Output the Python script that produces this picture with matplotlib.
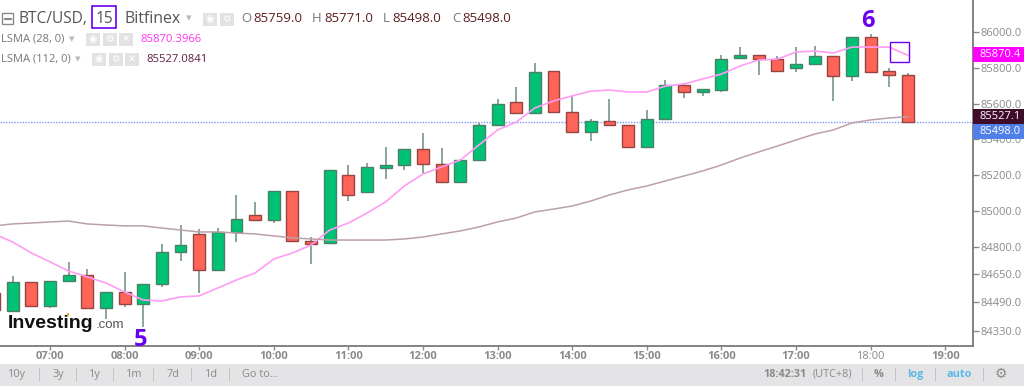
import matplotlib
matplotlib.use("Agg")
import matplotlib.pyplot as plt
from matplotlib.patches import Rectangle

plt.rcParams['font.family'] = ['Open Sans', 'DejaVu Sans']

# --- Data ---
opens = [84542, 84442, 84604, 84470, 84609, 84643, 84459, 84548, 84481, 84593,
         84771, 84872, 84671, 84883, 84978, 84950, 85112, 84833, 84822, 85201,
         85106, 85240, 85257, 85347, 85263, 85162, 85285, 85481, 85609, 85548,
         85782, 85553, 85441, 85503, 85481, 85358, 85514, 85704, 85665, 85676,
         85855, 85872, 85849, 85799, 85821, 85866, 85754, 85972, 85782, 85759]
closes = [84447, 84604, 84470, 84609, 84643, 84459, 84548, 84481, 84593, 84771,
          84810, 84671, 84883, 84956, 84950, 85112, 84833, 84816, 85229, 85090,
          85246, 85257, 85347, 85263, 85162, 85285, 85481, 85598, 85548, 85777,
          85553, 85441, 85503, 85481, 85358, 85514, 85704, 85665, 85682, 85849,
          85872, 85849, 85782, 85821, 85866, 85754, 85972, 85777, 85760, 85498]
highs = [84542, 84637, 84604, 84609, 84716, 84676, 84548, 84660, 84593, 84816,
         84922, 84900, 84905, 85090, 85051, 85112, 85112, 84855, 85229, 85257,
         85268, 85358, 85347, 85436, 85352, 85285, 85492, 85626, 85693, 85827,
         85782, 85643, 85514, 85626, 85481, 85564, 85732, 85715, 85682, 85872,
         85916, 85872, 85866, 85916, 85922, 85866, 85972, 85989, 85799, 85771]
lows = [84447, 84442, 84470, 84459, 84609, 84459, 84397, 84464, 84352, 84576,
        84721, 84542, 84671, 84827, 84950, 84933, 84833, 84704, 84822, 85056,
        85106, 85179, 85229, 85213, 85162, 85162, 85285, 85481, 85548, 85548,
        85553, 85441, 85391, 85475, 85358, 85358, 85514, 85631, 85643, 85665,
        85855, 85760, 85782, 85777, 85821, 85615, 85726, 85777, 85693, 85498]
lsma_28 = [84872, 84827, 84766, 84716, 84665, 84632, 84598, 84548, 84503, 84498,
           84520, 84526, 84570, 84615, 84654, 84732, 84766, 84810, 84894, 84933,
           84989, 85051, 85140, 85207, 85246, 85285, 85369, 85453, 85497, 85576,
           85615, 85643, 85670, 85676, 85665, 85665, 85698, 85710, 85738, 85765,
           85810, 85844, 85849, 85888, 85894, 85883, 85916, 85916, 85916, 85870]
lsma_112 = [84917, 84928, 84933, 84939, 84944, 84928, 84922, 84917, 84917, 84905,
            84894, 84883, 84883, 84877, 84872, 84861, 84850, 84844, 84838, 84838,
            84838, 84838, 84844, 84855, 84872, 84889, 84911, 84939, 84961, 84995,
            85011, 85028, 85056, 85090, 85118, 85140, 85168, 85196, 85224, 85257,
            85296, 85330, 85363, 85397, 85430, 85453, 85492, 85509, 85520, 85527]
times = [6.25 + 0.25 * i for i in range(len(opens))]

price_ticks = [86000, 85800, 85600, 85400, 85200, 85000, 84800, 84650, 84490, 84330]
hour_ticks = [7, 8, 9, 10, 11, 12, 13, 14, 15, 16, 17, 18, 19]
last_price = 85498
range_labels = ["10y", "3y", "1y", "1m", "7d", "1d", "Go to..."]

W, H = 1024, 388
GREY = "#8a8a8a"
PURPLE = "#6a00f0"

fig = plt.figure(figsize=(W / 100, H / 100), dpi=100, facecolor="white")
ax = fig.add_axes([0, 1 - 346 / H, 973 / W, 346 / H])


# --- Helpers working in screen pixels for the chrome around the plot ---
def label(x, y, s, size=8, color=GREY, ha="left", **kw):
    return fig.text(x / W, 1 - y / H, s, fontsize=size, color=color, ha=ha, va="center", **kw)


def box(x, y, w, h, fc="none", ec="none", lw=1, z=5):
    fig.add_artist(Rectangle((x / W, 1 - (y + h) / H), w / W, h / H, facecolor=fc,
                             edgecolor=ec, linewidth=lw, transform=fig.transFigure, zorder=z))


def icons(x, y, marks):
    for i, m in enumerate(marks):
        box(x + i * 16.5, y - 6, 14, 13, fc="#e2e2e2")
        label(x + i * 16.5 + 7, y, m, size=7, color="white", ha="center",
              family="DejaVu Sans").set_zorder(6)


# --- Candles ---
for t, o, c, hi, lo in zip(times, opens, closes, highs, lows):
    up = c >= o
    ax.vlines(t, lo, hi, color="#7f9f90", linewidth=1.3, zorder=2)
    ax.bar(t, abs(c - o), bottom=min(o, c), width=0.16, zorder=3,
           color="#00c274" if up else "#ff6459",
           edgecolor="#4a8068" if up else "#944540", linewidth=1.0)

ax.plot(times, lsma_28, color="#ff9cf5", linewidth=1.2, zorder=4)
ax.plot(times, lsma_112, color="#bba0ab", linewidth=1.1, zorder=4)
ax.axhline(last_price, color="#7f9cf0", linewidth=1, linestyle=(0, (1, 1)), zorder=1)

ax.set_xlim(6.33, 19.373)
ax.set_ylim(84246, 86179)
ax.spines["top"].set_visible(False)
ax.spines["left"].set_visible(False)
ax.spines["right"].set_color("#7a7a7a")
ax.spines["bottom"].set_color("#7a7a7a")
ax.spines["right"].set_linewidth(1.3)
ax.spines["bottom"].set_linewidth(1.3)
ax.yaxis.tick_right()
ax.set_yticks(price_ticks)
ax.set_yticklabels([f"{p:.1f}" for p in price_ticks], fontsize=8, color=GREY)
ax.set_xticks(hour_ticks)
ax.set_xticklabels([f"{h:02d}:00" for h in hour_ticks], fontsize=8, color=GREY, fontweight="bold")
ax.get_xticklabels()[11].set_fontweight("normal")
ax.tick_params(axis="y", length=4, width=1, color="#8a8a8a", pad=1.5)
ax.tick_params(axis="x", length=3, width=1, color="#8a8a8a", pad=0.5)

# --- Legend header ---
box(1.5, 13, 11, 10.5, ec="#8a8a8a", lw=1)
box(3.5, 18, 7, 0.5, ec="#8a8a8a", lw=0.8)
label(19, 19, "BTC/USD,", size=11.2, color="#555555")
label(96, 19, "15", size=11.2, color="#555555")
box(92, 6, 24, 22, ec=PURPLE, lw=1.2)
label(125, 19, "Bitfinex", size=11.4, color="#555555")
label(186, 18, "\u25be", size=8, color="#bbbbbb", family="DejaVu Sans")
icons(203, 19, ["\u25c9", "\u2699"])
label(241, 19, "O", size=9.5, color="#777777")
label(253, 19, "85759.0", size=9.5, color="#5c1f1f")
label(312, 19, "H", size=9.5, color="#777777")
label(324, 19, "85771.0", size=9.5, color="#5c1f1f")
label(383, 19, "L", size=9.5, color="#777777")
label(392, 19, "85498.0", size=9.5, color="#5c1f1f")
label(452, 19, "C", size=9.5, color="#777777")
label(462, 19, "85498.0", size=9.5, color="#5c1f1f")

label(1, 39, "LSMA (28, 0)", size=8, color="#777777")
label(69, 39, "\u25be", size=8, color="#bbbbbb", family="DejaVu Sans")
icons(86, 39, ["\u25c9", "\u2699", "\u2715"])
label(140, 39, "85870.3966", size=8.1, color="#ff33ee")
label(1, 59, "LSMA (112, 0)", size=8, color="#777777")
label(75, 59, "\u25be", size=8, color="#bbbbbb", family="DejaVu Sans")
icons(92, 59, ["\u25c9", "\u2699", "\u2715"])
label(146, 59, "85527.0841", size=8.1, color="#5c2040")

# --- Annotations drawn over the chart ---
label(141, 340, "5", size=17, color=PURPLE, ha="center", fontweight="bold")
label(868, 21, "6", size=17, color=PURPLE, ha="center", fontweight="bold")
box(889.5, 42, 19.5, 19.5, ec=PURPLE, lw=1)

# --- Logo ---
label(8, 323, "Investing", size=14, color="#111111", fontweight="bold", family="Liberation Sans")
label(96, 325.5, ".com", size=9.5, color="#555555", family="Liberation Sans")
box(66.5, 313, 2.5, 2.5, fc="#f5a623", z=6)

# --- Price tags on the right scale ---
box(973, 47, 51, 14.5, fc="#ff00ff", z=6)
label(979, 54.5, "85870.4", size=8, color="white").set_zorder(7)
box(973, 108.5, 51, 15.5, fc="#3f0d2a", z=6)
label(979, 116.5, "85527.1", size=8, color="white").set_zorder(7)
box(973, 124, 51, 15, fc="#4f7fe8", z=6)
label(979, 131.5, "85498.0", size=8, color="white").set_zorder(7)

# --- Footer bar ---
box(0, 363.5, W, 22, fc="#e4e4e6", z=1)
range_x = [17, 58, 95, 134, 173, 211, 260]
sep_x = [38.5, 76, 113, 153, 191, 229]
for x, s in zip(range_x, range_labels):
    label(x, 374.5, s, size=7.8, color="#8a8a8a", ha="center")
for x in sep_x + [862, 895, 935, 983]:
    box(x, 367, 0.3, 14, ec="#c4c4c4", lw=0.7, z=2)
label(763, 374.5, "18:42:31", size=7.8, color="#8a8a8a", fontweight="bold", ha="left")
label(813, 374.5, "(UTC+8)", size=7.8, color="#8a8a8a")
label(879, 374.5, "%", size=7.8, color="#8a8a8a", ha="center", fontweight="bold")
label(915, 374.5, "log", size=7.8, color="#5cb8e8", ha="center", fontweight="bold")
label(959, 374.5, "auto", size=7.8, color="#5cb8e8", ha="center", fontweight="bold")
label(1001, 374, "\u2699", size=10, color="#8a8a8a", ha="center", family="DejaVu Sans")

plt.savefig("out.png", dpi=100)
